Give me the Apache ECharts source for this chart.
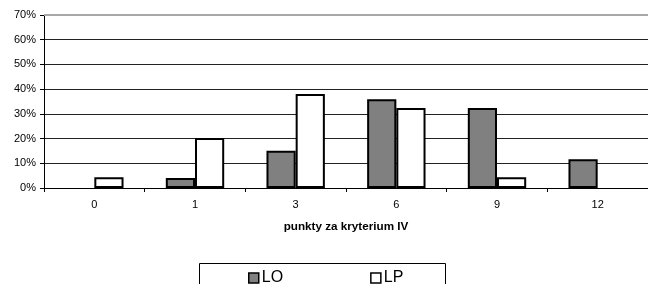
<!DOCTYPE html>
<html>
<head>
<meta charset="utf-8">
<script src="https://cdn.jsdelivr.net/npm/echarts@6/dist/echarts.min.js"></script>
<style>html,body{margin:0;padding:0;background:#fff}#c{width:648px;height:284px}</style>
</head>
<body>
<div id="c"></div>
<script>
const categories = ['0', '1', '3', '6', '9', '12'];
const seriesLO = [0, 4.0, 15.1, 35.9, 32.4, 11.6];
const seriesLP = [4.3, 20.2, 38.0, 32.4, 4.3, 0];
const yMax = 70;
const yInterval = 10;
const xTitle = 'punkty za kryterium IV';

// zero-height bars are not drawn in the original
const noZero = arr => arr.map(v => (v === 0 ? '-' : v));

const font = '"Liberation Sans", Arial, sans-serif';
const chart = echarts.init(document.getElementById('c'), null, {renderer: 'canvas'});
chart.setOption({
  animation: false,
  backgroundColor: '#fff',
  textStyle: {fontFamily: font},
  grid: {left: 44, right: -7, top: 15, bottom: 96, containLabel: false},
  legend: {
    left: 243, top: 265,
    itemWidth: 10, itemHeight: 10, itemGap: 87,
    icon: 'rect',
    textStyle: {fontSize: 16, color: '#000', fontFamily: font, padding: [0, 0, 0, -2]},
    data: [
      {name: 'LO', itemStyle: {color: '#808080', borderColor: '#000', borderWidth: 1.5}},
      {name: 'LP', itemStyle: {color: '#fff', borderColor: '#000', borderWidth: 1.5}}
    ]
  },
  graphic: [{
    type: 'rect', left: 197, top: 261, silent: true,
    shape: {width: 246, height: 30},
    style: {fill: 'none', stroke: '#000', lineWidth: 1}
  }],
  xAxis: {
    type: 'category', data: categories,
    name: xTitle, nameLocation: 'middle', nameGap: 33,
    nameTextStyle: {fontSize: 11.7, fontWeight: 'bold', color: '#000', fontFamily: font},
    axisLine: {lineStyle: {color: '#000', width: 1}},
    axisTick: {show: true, length: 4, interval: 0, lineStyle: {color: '#000'}},
    axisLabel: {fontSize: 11, color: '#000', margin: 11, fontFamily: font},
    splitLine: {show: false}
  },
  yAxis: {
    type: 'value', min: 0, max: yMax, interval: yInterval,
    axisLine: {show: true, lineStyle: {color: '#000', width: 1}},
    axisTick: {show: true, length: 4, lineStyle: {color: '#000'}},
    axisLabel: {formatter: '{value}%', fontSize: 11, color: '#000', margin: 8, fontFamily: font},
    splitLine: {show: true, lineStyle: {color: '#222', width: 1}}
  },
  series: [
    {
      name: 'LO', type: 'bar', data: noZero(seriesLO),
      barGap: '0%', barCategoryGap: '42%',
      itemStyle: {color: '#808080', borderColor: '#000', borderWidth: 2},
      markLine: {
        silent: true, symbol: 'none', label: {show: false},
        lineStyle: {color: '#a8a8a8', width: 2, type: 'solid'},
        data: [{yAxis: yMax}]
      }
    },
    {
      name: 'LP', type: 'bar', data: noZero(seriesLP),
      itemStyle: {color: '#fff', borderColor: '#000', borderWidth: 2}
    }
  ]
});
</script>
</body>
</html>
